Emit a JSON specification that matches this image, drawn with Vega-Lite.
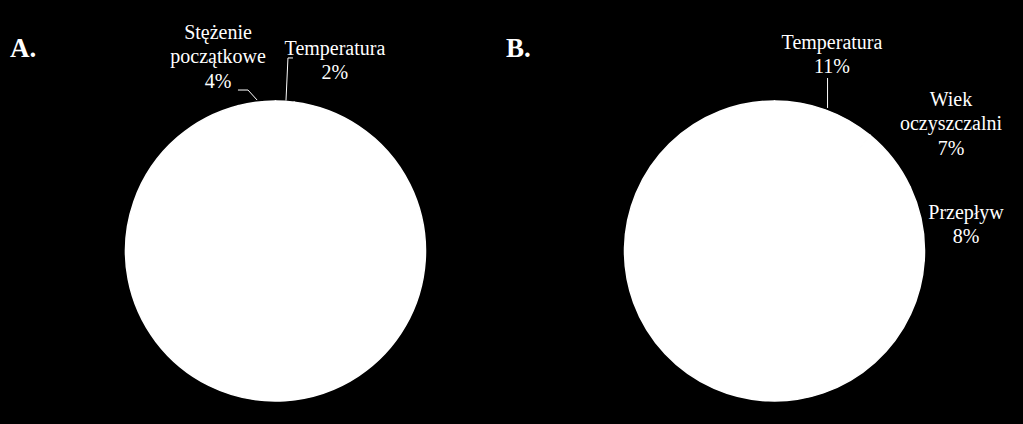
{
  "$schema": "https://vega.github.io/schema/vega-lite/v6.json",
  "background": "black",
  "padding": 0,
  "width": 1023,
  "height": 424,
  "config": {"view": {"stroke": null}},
  "encoding": {
    "x": {"type": "quantitative", "scale": {"domain": [-1.8125, 4.9178], "nice": false, "zero": false}, "axis": null},
    "y": {"type": "quantitative", "scale": {"domain": [-1.1382, 1.6513], "nice": false, "zero": false}, "axis": null}
  },
  "layer": [
    {
      "data": {"values": [{}]},
      "mark": {"type": "point", "shape": "circle", "filled": true, "size": 72106, "color": "white", "opacity": 1},
      "encoding": {"x": {"datum": 0}, "y": {"datum": 0}}
    },
    {
      "data": {"values": [{}]},
      "mark": {"type": "point", "shape": "circle", "filled": true, "size": 72106, "color": "white", "opacity": 1},
      "encoding": {"x": {"datum": 3.2829}, "y": {"datum": 0}}
    },
    {
      "data": {"values": [
        {"factor": "Temperatura", "share": 2, "ord": 1},
        {"factor": "Pozostałe", "share": 94, "ord": 2},
        {"factor": "Stężenie początkowe", "share": 4, "ord": 3}
      ]},
      "mark": {"type": "arc", "radius": 150, "fill": "white", "stroke": "white", "strokeWidth": 1.5},
      "encoding": {
        "theta": {"field": "share", "type": "quantitative", "stack": true},
        "order": {"field": "ord", "type": "quantitative"},
        "x": {"datum": 0},
        "y": {"datum": 0}
      }
    },
    {
      "data": {"values": [
        {"factor": "Temperatura", "share": 11, "ord": 1},
        {"factor": "Wiek oczyszczalni", "share": 7, "ord": 2},
        {"factor": "Przepływ", "share": 8, "ord": 3},
        {"factor": "Pozostałe", "share": 74, "ord": 4}
      ]},
      "mark": {"type": "arc", "radius": 150, "fill": "white", "stroke": "white", "strokeWidth": 1.5},
      "encoding": {
        "theta": {"field": "share", "type": "quantitative", "stack": true},
        "order": {"field": "ord", "type": "quantitative"},
        "x": {"datum": 3.2829},
        "y": {"datum": 0}
      }
    },
    {
      "data": {"values": [
        {"id": "As", "seq": 1, "px": -0.121, "py": 0.993},
        {"id": "As", "seq": 2, "px": -0.181, "py": 1.059},
        {"id": "As", "seq": 3, "px": -0.247, "py": 1.059},
        {"id": "At", "seq": 1, "px": 0.069, "py": 0.99},
        {"id": "At", "seq": 2, "px": 0.082, "py": 1.27},
        {"id": "At", "seq": 3, "px": 0.115, "py": 1.27},
        {"id": "Bt", "seq": 1, "px": 3.632, "py": 0.941},
        {"id": "Bt", "seq": 2, "px": 3.632, "py": 1.138}
      ]},
      "mark": {"type": "line", "stroke": "white", "strokeWidth": 1},
      "encoding": {
        "x": {"field": "px"},
        "y": {"field": "py"},
        "detail": {"field": "id"},
        "order": {"field": "seq", "type": "quantitative"}
      }
    },
    {
      "data": {"values": [
        {"label": "Stężenie\npoczątkowe\n4%", "px": -0.378, "py": 1.434},
        {"label": "Temperatura\n2%", "px": 0.391, "py": 1.329},
        {"label": "Temperatura\n11%", "px": 3.661, "py": 1.368},
        {"label": "Wiek\noczyszczalni\n7%", "px": 4.444, "py": 0.993},
        {"label": "Przepływ\n8%", "px": 4.543, "py": 0.252}
      ]},
      "mark": {"type": "text", "font": "Liberation Serif", "color": "white", "fontSize": 20, "lineBreak": "\n", "lineHeight": 24.3, "align": "center", "baseline": "middle"},
      "encoding": {
        "x": {"field": "px"},
        "y": {"field": "py"},
        "text": {"field": "label"}
      }
    },
    {
      "data": {"values": [
        {"label": "A.", "px": -1.747, "py": 1.276},
        {"label": "B.", "px": 1.516, "py": 1.276}
      ]},
      "mark": {"type": "text", "font": "Liberation Serif", "color": "white", "fontSize": 27, "fontWeight": "bold", "align": "left", "baseline": "alphabetic"},
      "encoding": {
        "x": {"field": "px"},
        "y": {"field": "py"},
        "text": {"field": "label"}
      }
    }
  ]
}
